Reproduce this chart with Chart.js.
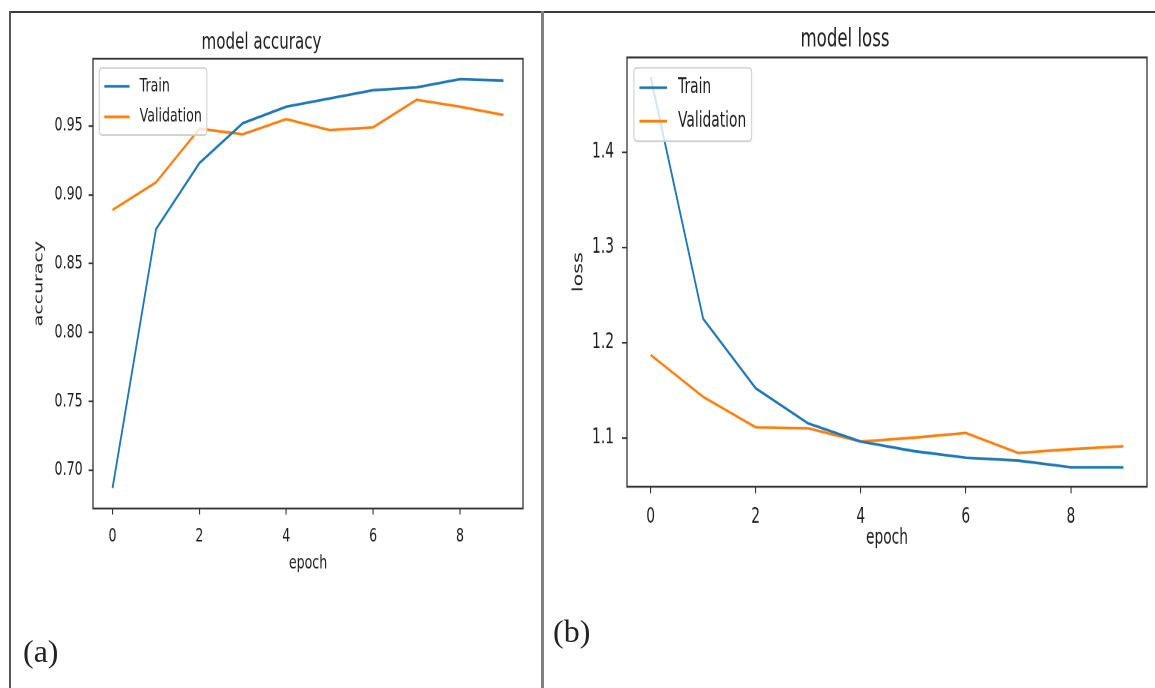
<!DOCTYPE html>
<html><head><meta charset="utf-8">
<script src="https://cdn.jsdelivr.net/npm/chart.js@4.4.1/dist/chart.umd.min.js"></script>
<style>
html,body{margin:0;padding:0;background:#fff;}
#page{position:relative;width:1155px;height:688px;overflow:hidden;background:#fff;}
canvas{position:absolute;top:0;transform:scaleY(1.5);transform-origin:0 0;}
#c1{left:0}
#c2{left:543px}
.line{position:absolute;}
.lbl{position:absolute;font-family:'Liberation Serif','Times New Roman',serif;font-size:32px;line-height:1;color:#222;}
</style></head><body>
<div id="page">
<div class="line" style="left:10px;top:11px;width:1145px;height:2px;background:#3a3a3a"></div>
<div class="line" style="left:9px;top:11px;width:2px;height:677px;background:#555"></div>
<div class="line" style="left:541px;top:11px;width:3px;height:677px;background:#808080"></div>
<canvas id="c1" width="541" height="459"></canvas>
<canvas id="c2" width="612" height="459"></canvas>
<div class="lbl" style="left:23px;top:635px">(a)</div>
<div class="lbl" style="left:553px;top:615px">(b)</div>
</div>
<script>
// ---- data ----
const epochs = [0, 1, 2, 3, 4, 5, 6, 7, 8, 9];
const accTrain = [0.687, 0.875, 0.923, 0.952, 0.964, 0.970, 0.976, 0.978, 0.984, 0.983];
const accVal   = [0.889, 0.909, 0.948, 0.944, 0.955, 0.947, 0.949, 0.969, 0.964, 0.958];
const lossTrain = [1.479, 1.225, 1.152, 1.115, 1.096, 1.086, 1.079, 1.076, 1.069, 1.069];
const lossVal   = [1.187, 1.143, 1.111, 1.110, 1.096, 1.100, 1.105, 1.084, 1.088, 1.091];
const xTicks = [0, 2, 4, 6, 8];
const accTicks = [0.70, 0.75, 0.80, 0.85, 0.90, 0.95];
const lossTicks = [1.1, 1.2, 1.3, 1.4];
const seriesNames = ['Train', 'Validation'];
const colors = ['#1f77b4', '#ff7f0e'];

const TEXT = '#1e1e1e';
Chart.defaults.font.family = '"DejaVu Sans", sans-serif';
Chart.defaults.color = TEXT;

function lims(arrs){
  const all = [].concat(...arrs);
  const lo = Math.min(...all), hi = Math.max(...all);
  const m = (hi - lo) * 0.05;
  return [lo - m, hi + m];
}

const framePlugin = {
  id: 'frame',
  afterDatasetsDraw(chart){
    const {ctx, chartArea: a} = chart;
    ctx.save();
    ctx.strokeStyle = '#333333';
    ctx.lineWidth = 1.3;
    ctx.strokeRect(a.left, a.top, a.right - a.left, a.bottom - a.top);
    ctx.restore();
  }
};

const innerLegend = {
  id: 'innerLegend',
  afterDraw(chart, args, opts){
    const f = opts.fontSize;
    const ctx = chart.ctx, a = chart.chartArea;
    const ds = chart.data.datasets;
    ctx.save();
    ctx.font = f + 'px "DejaVu Sans"';
    const tw = Math.max(...ds.map(d => ctx.measureText(d.label).width));
    const x = a.left + 0.5 * f, y = a.top + 0.5 * f;
    const rowH = 1.12 * f, sp = 0.5 * f;
    const w = 0.4 * f + 2 * f + 0.8 * f + tw + 0.4 * f;
    const h = 0.8 * f + ds.length * rowH + (ds.length - 1) * sp;
    ctx.beginPath();
    ctx.roundRect(x, y, w, h, 0.2 * f);
    ctx.fillStyle = 'rgba(255,255,255,0.8)';
    ctx.fill();
    ctx.strokeStyle = '#cccccc';
    ctx.lineWidth = 1;
    ctx.stroke();
    ds.forEach((d, i) => {
      const cy = y + 0.4 * f + rowH / 2 + i * (rowH + sp);
      ctx.beginPath();
      ctx.moveTo(x + 0.4 * f, cy);
      ctx.lineTo(x + 2.4 * f, cy);
      ctx.strokeStyle = d.borderColor;
      ctx.lineWidth = d.borderWidth;
      ctx.stroke();
      ctx.fillStyle = TEXT;
      ctx.textBaseline = 'middle';
      ctx.textAlign = 'left';
      ctx.fillText(d.label, x + 3.2 * f, cy);
    });
    ctx.restore();
  }
};

function makeChart(id, g){
  const [ymin, ymax] = lims(g.series);
  return new Chart(document.getElementById(id), {
    type: 'line',
    data: {
      datasets: g.series.map((s, i) => ({
        label: seriesNames[i],
        data: epochs.map((e, k) => ({x: e, y: s[k]})),
        borderColor: colors[i],
        backgroundColor: colors[i],
        borderWidth: 1.8,
        pointRadius: 0,
        tension: 0,
        fill: false
      }))
    },
    options: {
      responsive: false,
      animation: false,
      devicePixelRatio: 2,
      layout: {padding: {left: 0, right: g.padR, top: 0, bottom: g.padB}},
      plugins: {
        legend: {display: false},
        tooltip: {enabled: false},
        title: {
          display: true, text: g.title, color: TEXT,
          font: {size: g.titleSize, weight: 'normal'},
          padding: {top: g.titlePadT, bottom: g.titlePadB}
        },
        innerLegend: {fontSize: g.tick}
      },
      scales: {
        x: {
          type: 'linear', min: -0.45, max: 9.45,
          afterBuildTicks: s => { s.ticks = xTicks.map(v => ({value: v})); },
          afterFit: s => { s.height = 60; },
          grid: {drawOnChartArea: false, drawTicks: true, tickLength: g.xtl, color: '#333', lineWidth: 1.1},
          border: {display: false},
          ticks: {autoSkip: false, maxRotation: 0, minRotation: 0, padding: g.xpad, font: {size: g.tick}, color: TEXT, callback: v => String(v)},
          title: {display: true, text: 'epoch', color: TEXT, font: {size: g.tick}, padding: {top: 0, bottom: g.xTitlePad}}
        },
        y: {
          type: 'linear', min: ymin, max: ymax,
          afterBuildTicks: s => { s.ticks = g.yTicks.map(v => ({value: v})); },
          afterFit: s => { s.width = g.yWidth; },
          grid: {drawOnChartArea: false, drawTicks: true, tickLength: g.ytl, color: '#333', lineWidth: 1.1},
          border: {display: false},
          ticks: {autoSkip: false, padding: g.ypad, font: {size: g.tick}, color: TEXT, callback: v => v.toFixed(g.dec)},
          title: {display: true, text: g.yTitle, color: TEXT, font: {size: g.tick}, padding: {top: g.yTitlePad, bottom: 0}}
        }
      }
    },
    plugins: [framePlugin, innerLegend]
  });
}

makeChart('c1', {
  series: [accTrain, accVal], title: 'model accuracy', yTitle: 'accuracy', yTicks: accTicks, dec: 2,
  tick: 12.6, titleSize: 15.1, titlePadT: 19.5, titlePadB: 1.5,
  padR: 18, padB: 60, yWidth: 93, ytl: 4.4, ypad: 6, xtl: 4, xpad: 7.4,
  xTitlePad: 15.5, yTitlePad: 31.9
});
makeChart('c2', {
  series: [lossTrain, lossVal], title: 'model loss', yTitle: 'loss', yTicks: lossTicks, dec: 1,
  tick: 13.8, titleSize: 16.6, titlePadT: 16.7, titlePadB: 1.7,
  padR: 8, padB: 74.5, yWidth: 84, ytl: 5, ypad: 8, xtl: 4.4, xpad: 7.5,
  xTitlePad: 17.2, yTitlePad: 27.7
});
</script>
</body></html>
